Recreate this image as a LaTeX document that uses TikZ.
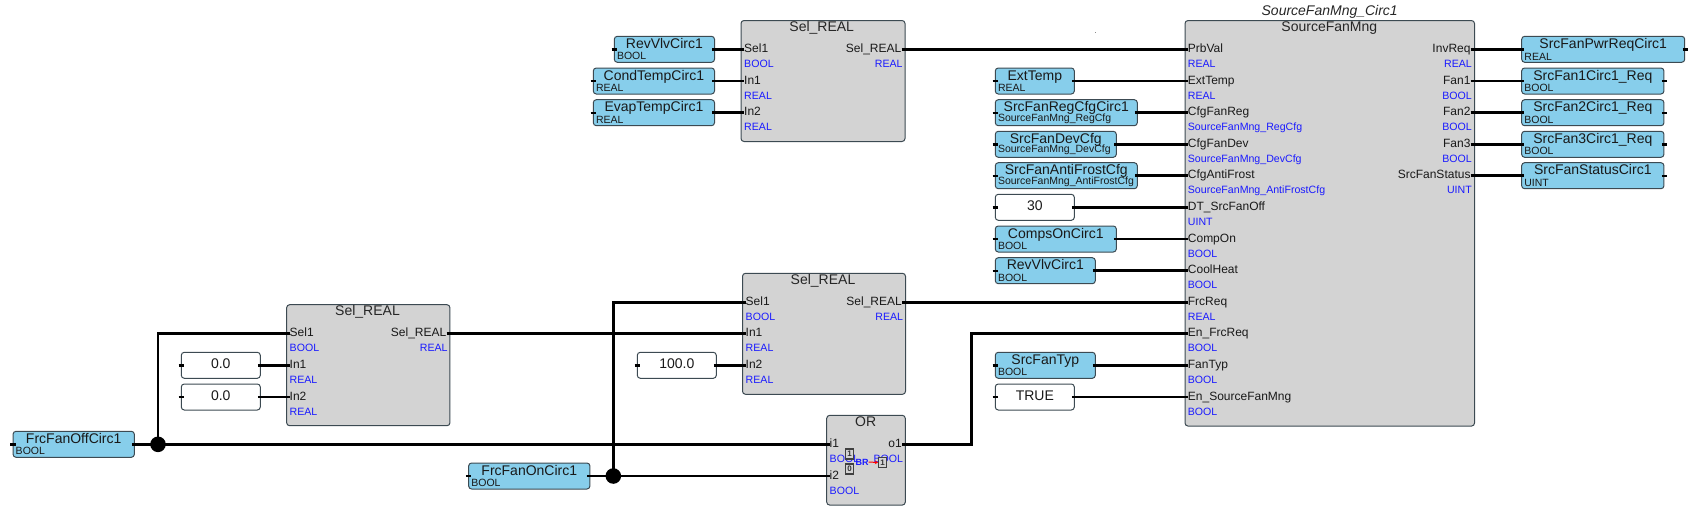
\documentclass[tikz,border=0pt]{standalone}
\usepackage{fontspec}
\setmainfont{Liberation Sans}
\definecolor{varblue}{HTML}{87CEEB}
\definecolor{blockgrey}{HTML}{D3D3D3}
\definecolor{edgegrey}{HTML}{3C4A52}
\definecolor{typeblue}{HTML}{1A1AFF}
\usetikzlibrary{arrows.meta}
\tikzset{
	wire/.style={line width=2.6pt,black},
	pin/.style={line width=2.4pt,black},
	blockbox/.style={draw=edgegrey,line width=1pt,fill=blockgrey,rounded corners=3pt,inner sep=0pt},
	blocktitle/.style={inner sep=0pt,font=\fontsize{14}{14}\selectfont,text=black!85},
	varbox/.style={draw=edgegrey,line width=1pt,fill=varblue,rounded corners=3pt,inner sep=0pt,minimum height=26pt,text height=10pt,text depth=12pt,font=\fontsize{14}{14}\selectfont,text=black!90},
	valbox/.style={draw=edgegrey,line width=1pt,fill=white,rounded corners=3pt,inner sep=0pt,minimum height=26pt,minimum width=79pt,text height=11pt,text depth=5pt,font=\fontsize{14}{14}\selectfont,text=black!90},
	vartype/.style={anchor=south west,xshift=3pt,yshift=2.6pt,inner sep=0pt,font=\fontsize{10.5}{10.5}\selectfont,text=black!90},
	portin/.style={anchor=west,inner sep=0pt,text height=9pt,text depth=3pt,font=\fontsize{12}{12}\selectfont,text=black!90},
	portout/.style={anchor=east,inner sep=0pt,text height=9pt,text depth=3pt,font=\fontsize{12}{12}\selectfont,text=black!90},
	typein/.style={anchor=north west,yshift=-3.7pt,inner sep=0pt,text height=8pt,text depth=0pt,font=\fontsize{10.6}{10.6}\selectfont,text=typeblue},
	typeout/.style={anchor=north east,yshift=-3.7pt,xshift=1.3pt,inner sep=0pt,text height=8pt,text depth=0pt,font=\fontsize{10.6}{10.6}\selectfont,text=typeblue},
	junction/.style={circle,fill=black,inner sep=0pt,minimum size=15.6pt},
	iconbox/.style={draw=black!75,line width=1.2pt,fill=blockgrey,inner sep=0pt,minimum width=8pt,minimum height=10pt,font=\fontsize{8}{8}\selectfont\bfseries,text=black!80},
	iconname/.style={inner sep=0pt,font=\fontsize{9}{9}\selectfont\bfseries,text=typeblue}
}
\begin{document}
\begin{tikzpicture}[x=1pt,y=-1pt]
	\useasboundingbox (0,0) rectangle (1694,514);
	\fill[black!45] (1094.8,31.5) rectangle (1095.8,32.7);

	\node[blockbox,minimum width=164pt,minimum height=121pt] (selTop) at (823,81) {};
	\node[blocktitle] (selTopTitle) at (821.7,28) {Sel\_REAL};
	\node[portin,label={[typein]south west:BOOL}] (selTopSel) at (744,49.3) {Sel1};
	\node[portin,label={[typein]south west:REAL}] (selTopIn1) at (744,81) {In1};
	\node[portin,label={[typein]south west:REAL}] (selTopIn2) at (744,112.7) {In2};
	\node[portout,label={[typeout]south east:REAL}] (selTopOut) at (901.5,49.3) {Sel\_REAL};

	\node[blockbox,minimum width=163pt,minimum height=121pt] (selMid) at (824,333.8) {};
	\node[blocktitle] (selMidTitle) at (823,280.8) {Sel\_REAL};
	\node[portin,label={[typein]south west:BOOL}] (selMidSel) at (745.5,302.3) {Sel1};
	\node[portin,label={[typein]south west:REAL}] (selMidIn1) at (745.5,333.5) {In1};
	\node[portin,label={[typein]south west:REAL}] (selMidIn2) at (745.5,365.3) {In2};
	\node[portout,label={[typeout]south east:REAL}] (selMidOut) at (902,302.3) {Sel\_REAL};

	\node[blockbox,minimum width=163.3pt,minimum height=121pt] (selLow) at (368.3,365.2) {};
	\node[blocktitle] (selLowTitle) at (367.5,312) {Sel\_REAL};
	\node[portin,label={[typein]south west:BOOL}] (selLowSel) at (289.5,333.5) {Sel1};
	\node[portin,label={[typein]south west:REAL}] (selLowIn1) at (289.5,365.3) {In1};
	\node[portin,label={[typein]south west:REAL}] (selLowIn2) at (289.5,397) {In2};
	\node[portout,label={[typeout]south east:REAL}] (selLowOut) at (446.5,333.5) {Sel\_REAL};

	\node[blockbox,minimum width=78.6pt,minimum height=89.7pt] (orBlk) at (866,460.2) {};
	\node[blocktitle] (orTitle) at (865.7,422) {OR};
	\node[portin,label={[typein]south west:BOOL}] (orI1) at (829.5,444.3) {i1};
	\node[portin,label={[typein]south west:BOOL}] (orI2) at (829.5,476) {i2};
	\node[portout,label={[typeout]south east:BOOL}] (orO1) at (902,444.3) {o1};
	\node[iconbox] (orIcon1) at (849.5,454) {1};
	\node[iconbox] (orIcon0) at (849.5,469) {0};
	\node[iconname] (orName) at (862,462) {BR};
	\node[iconbox] (orIconOut) at (882.5,462.5) {1};
	\draw[-{Stealth[length=3pt,width=4pt]},red,line width=1pt] (orName.east) -- (orIconOut.west);

	\node[blockbox,minimum width=289.5pt,minimum height=405.5pt] (mngBlk) at (1329.75,223.3) {};
	\node[inner sep=0pt,font=\fontsize{14}{14}\selectfont\itshape,text=black!85] (mngInst) at (1329.7,11.5) {SourceFanMng\_Circ1};
	\node[blocktitle] (mngTitle) at (1329.3,28) {SourceFanMng};
	\node[portin,label={[typein]south west:REAL}] (mngPrb) at (1187.7,49.3) {PrbVal};
	\node[portin,label={[typein]south west:REAL}] (mngExt) at (1187.7,81) {ExtTemp};
	\node[portin,label={[typein]south west:SourceFanMng\_RegCfg}] (mngReg) at (1187.7,112.7) {CfgFanReg};
	\node[portin,label={[typein]south west:SourceFanMng\_DevCfg}] (mngDev) at (1187.7,144.3) {CfgFanDev};
	\node[portin,label={[typein]south west:SourceFanMng\_AntiFrostCfg}] (mngFrost) at (1187.7,175.7) {CfgAntiFrost};
	\node[portin,label={[typein]south west:UINT}] (mngOff) at (1187.7,207.3) {DT\_SrcFanOff};
	\node[portin,label={[typein]south west:BOOL}] (mngComp) at (1187.7,239) {CompOn};
	\node[portin,label={[typein]south west:BOOL}] (mngCool) at (1187.7,270.7) {CoolHeat};
	\node[portin,label={[typein]south west:REAL}] (mngFrc) at (1187.7,302.3) {FrcReq};
	\node[portin,label={[typein]south west:BOOL}] (mngEnFrc) at (1187.7,333.7) {En\_FrcReq};
	\node[portin,label={[typein]south west:BOOL}] (mngTyp) at (1187.7,365.3) {FanTyp};
	\node[portin,label={[typein]south west:BOOL}] (mngEn) at (1187.7,397) {En\_SourceFanMng};
	\node[portout,label={[typeout]south east:REAL}] (mngInv) at (1470.7,49.3) {InvReq};
	\node[portout,label={[typeout]south east:BOOL}] (mngFan1) at (1470.7,81) {Fan1};
	\node[portout,label={[typeout]south east:BOOL}] (mngFan2) at (1470.7,112.7) {Fan2};
	\node[portout,label={[typeout]south east:BOOL}] (mngFan3) at (1470.7,144.3) {Fan3};
	\node[portout,label={[typeout]south east:UINT}] (mngStat) at (1470.7,175.7) {SrcFanStatus};

	\node[varbox,minimum width=100.2pt,label={[vartype]south west:BOOL}] (revVlvTop) at (664.4,49.3) {RevVlvCirc1};
	\node[varbox,minimum width=121.2pt,label={[vartype]south west:REAL}] (condTemp) at (653.9,81) {CondTempCirc1};
	\node[varbox,minimum width=121.2pt,label={[vartype]south west:REAL}] (evapTemp) at (653.9,112.7) {EvapTempCirc1};
	\node[varbox,minimum width=79pt,label={[vartype]south west:REAL}] (extTemp) at (1034.8,81) {ExtTemp};
	\node[varbox,minimum width=142pt,label={[vartype]south west:SourceFanMng\_RegCfg}] (regCfg) at (1066.3,112.7) {SrcFanRegCfgCirc1};
	\node[varbox,minimum width=121pt,label={[vartype]south west:SourceFanMng\_DevCfg}] (devCfg) at (1055.8,144.3) {SrcFanDevCfg};
	\node[varbox,minimum width=142pt,label={[vartype]south west:SourceFanMng\_AntiFrostCfg}] (frostCfg) at (1066.3,175.7) {SrcFanAntiFrostCfg};
	\node[valbox] (offVal) at (1034.8,207.3) {30};
	\node[varbox,minimum width=121pt,label={[vartype]south west:BOOL}] (compsOn) at (1055.8,239) {CompsOnCirc1};
	\node[varbox,minimum width=100pt,label={[vartype]south west:BOOL}] (revVlvMng) at (1045.3,270.7) {RevVlvCirc1};
	\node[varbox,minimum width=100pt,label={[vartype]south west:BOOL}] (fanTyp) at (1045.3,365.3) {SrcFanTyp};
	\node[valbox] (enVal) at (1034.8,397) {TRUE};
	\node[varbox,minimum width=163pt,label={[vartype]south west:REAL}] (pwrReq) at (1603.2,49.3) {SrcFanPwrReqCirc1};
	\node[varbox,minimum width=142.3pt,label={[vartype]south west:BOOL}] (fan1Req) at (1592.8,81) {SrcFan1Circ1\_Req};
	\node[varbox,minimum width=142.3pt,label={[vartype]south west:BOOL}] (fan2Req) at (1592.8,112.7) {SrcFan2Circ1\_Req};
	\node[varbox,minimum width=142.3pt,label={[vartype]south west:BOOL}] (fan3Req) at (1592.8,144.3) {SrcFan3Circ1\_Req};
	\node[varbox,minimum width=142.3pt,label={[vartype]south west:UINT}] (statVar) at (1592.8,175.7) {SrcFanStatusCirc1};
	\node[valbox] (lowIn1) at (220.8,365.3) {0.0};
	\node[valbox] (lowIn2) at (220.8,397) {0.0};
	\node[valbox] (midIn2) at (676.8,365.3) {100.0};
	\node[varbox,minimum width=121.3pt,label={[vartype]south west:BOOL}] (frcOff) at (73.7,444.3) {FrcFanOffCirc1};
	\node[varbox,minimum width=121.3pt,label={[vartype]south west:BOOL}] (frcOn) at (529.3,476) {FrcFanOnCirc1};
	\node[junction] (offDot) at (158,444.3) {};
	\node[junction] (onDot) at (613.3,476) {};

	\draw[wire] ([xshift=-3pt]revVlvTop.east) -- (selTopSel.west);
	\draw[wire] ([xshift=-3pt]condTemp.east) -- (selTopIn1.west);
	\draw[wire] ([xshift=-3pt]evapTemp.east) -- (selTopIn2.west);
	\draw[wire] (selTopOut.east) -- (mngPrb.west);
	\draw[wire] ([xshift=-3pt]extTemp.east) -- (mngExt.west);
	\draw[wire] ([xshift=-3pt]regCfg.east) -- (mngReg.west);
	\draw[wire] ([xshift=-3pt]devCfg.east) -- (mngDev.west);
	\draw[wire] ([xshift=-3pt]frostCfg.east) -- (mngFrost.west);
	\draw[wire] ([xshift=-3pt]offVal.east) -- (mngOff.west);
	\draw[wire] ([xshift=-3pt]compsOn.east) -- (mngComp.west);
	\draw[wire] ([xshift=-3pt]revVlvMng.east) -- (mngCool.west);
	\draw[wire] (selMidOut.east) -- (mngFrc.west);
	\draw[wire] (orO1.east) -| (971.7,333.7) -- (mngEnFrc.west);
	\draw[wire] ([xshift=-3pt]fanTyp.east) -- (mngTyp.west);
	\draw[wire] ([xshift=-3pt]enVal.east) -- (mngEn.west);
	\draw[wire] (mngInv.east) -- ([xshift=2.5pt]pwrReq.west);
	\draw[wire] (mngFan1.east) -- ([xshift=2.5pt]fan1Req.west);
	\draw[wire] (mngFan2.east) -- ([xshift=2.5pt]fan2Req.west);
	\draw[wire] (mngFan3.east) -- ([xshift=2.5pt]fan3Req.west);
	\draw[wire] (mngStat.east) -- ([xshift=2.5pt]statVar.west);
	\draw[wire] ([xshift=-3pt]lowIn1.east) -- (selLowIn1.west);
	\draw[wire] ([xshift=-3pt]lowIn2.east) -- (selLowIn2.west);
	\draw[wire] (selLowOut.east) -- (selMidIn1.west);
	\draw[wire] ([xshift=-3pt]midIn2.east) -- (selMidIn2.west);
	\draw[wire] ([xshift=-3pt]frcOff.east) -- (offDot.center);
	\draw[wire] (offDot.center) -- (orI1.west);
	\draw[wire] (offDot.center) |- (selLowSel.west);
	\draw[wire] ([xshift=-3pt]frcOn.east) -- (onDot.center);
	\draw[wire] (onDot.center) -- (orI2.west);
	\draw[wire] (onDot.center) |- (selMidSel.west);

	\draw[pin] ([xshift=-2.2pt]revVlvTop.west) -- ([xshift=3pt]revVlvTop.west);
	\draw[pin] ([xshift=-2.2pt]condTemp.west) -- ([xshift=3pt]condTemp.west);
	\draw[pin] ([xshift=-2.2pt]evapTemp.west) -- ([xshift=3pt]evapTemp.west);
	\draw[pin] ([xshift=-2.2pt]extTemp.west) -- ([xshift=3pt]extTemp.west);
	\draw[pin] ([xshift=-2.2pt]regCfg.west) -- ([xshift=3pt]regCfg.west);
	\draw[pin] ([xshift=-2.2pt]devCfg.west) -- ([xshift=3pt]devCfg.west);
	\draw[pin] ([xshift=-2.2pt]frostCfg.west) -- ([xshift=3pt]frostCfg.west);
	\draw[pin] ([xshift=-2.2pt]offVal.west) -- ([xshift=3pt]offVal.west);
	\draw[pin] ([xshift=-2.2pt]compsOn.west) -- ([xshift=3pt]compsOn.west);
	\draw[pin] ([xshift=-2.2pt]revVlvMng.west) -- ([xshift=3pt]revVlvMng.west);
	\draw[pin] ([xshift=-2.2pt]fanTyp.west) -- ([xshift=3pt]fanTyp.west);
	\draw[pin] ([xshift=-2.2pt]enVal.west) -- ([xshift=3pt]enVal.west);
	\draw[pin] ([xshift=-2.2pt]lowIn1.west) -- ([xshift=3pt]lowIn1.west);
	\draw[pin] ([xshift=-2.2pt]lowIn2.west) -- ([xshift=3pt]lowIn2.west);
	\draw[pin] ([xshift=-2.2pt]midIn2.west) -- ([xshift=3pt]midIn2.west);
	\draw[pin] ([xshift=-2.2pt]frcOff.west) -- ([xshift=3pt]frcOff.west);
	\draw[pin] ([xshift=-2.2pt]frcOn.west) -- ([xshift=3pt]frcOn.west);
	\draw[pin] ([xshift=-2.5pt]pwrReq.east) -- ([xshift=3pt]pwrReq.east);
	\draw[pin] ([xshift=-2.5pt]fan1Req.east) -- ([xshift=3pt]fan1Req.east);
	\draw[pin] ([xshift=-2.5pt]fan2Req.east) -- ([xshift=3pt]fan2Req.east);
	\draw[pin] ([xshift=-2.5pt]fan3Req.east) -- ([xshift=3pt]fan3Req.east);
	\draw[pin] ([xshift=-2.5pt]statVar.east) -- ([xshift=3pt]statVar.east);
\end{tikzpicture}
\end{document}
